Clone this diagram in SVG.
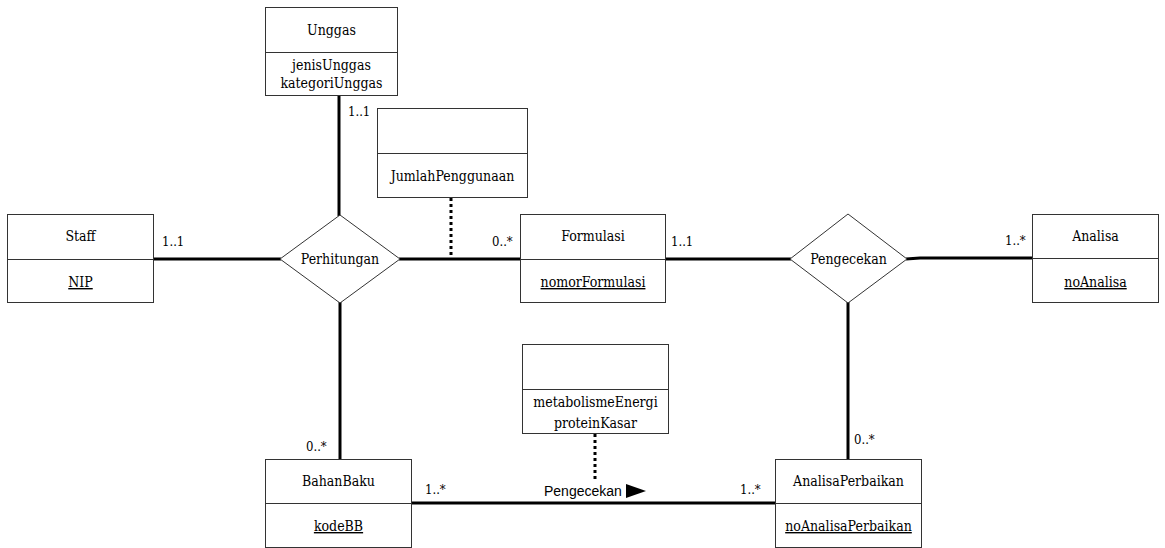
<svg xmlns="http://www.w3.org/2000/svg" width="1165" height="548" viewBox="0 0 1165 548">
<style>
.box{fill:#fff;stroke:#333;stroke-width:1}
.div{stroke:#333;stroke-width:1}
.t{font-family:"DejaVu Serif","Liberation Serif",serif;font-stretch:condensed;font-size:14px;fill:#000;text-anchor:middle}
.m{font-family:"DejaVu Serif","Liberation Serif",serif;font-stretch:condensed;font-size:13px;fill:#000}
.s{font-family:"Liberation Sans",Arial,sans-serif;font-size:14px;fill:#000}
.u{text-decoration:underline}
.c{stroke:#000;stroke-width:3;fill:none}
.d{stroke:#000;stroke-width:3;stroke-dasharray:3,3;fill:none}
.dm{fill:#fff;stroke:#333;stroke-width:1}
</style>
<rect width="1165" height="548" fill="#fff"/>
<g id="connectors">
<line class="c" x1="339" y1="95" x2="339" y2="216"/>
<line class="c" x1="154" y1="259" x2="281" y2="259"/>
<line class="c" x1="399" y1="259" x2="520" y2="259"/>
<line class="c" x1="665" y1="259" x2="791" y2="259"/>
<polyline class="c" points="906,259 920,258 1032,258"/>
<line class="c" x1="340" y1="302" x2="340" y2="459"/>
<line class="c" x1="848" y1="302" x2="848" y2="459"/>
<line class="c" x1="412" y1="503" x2="775" y2="503"/>
<line class="d" x1="451" y1="198" x2="451" y2="259"/>
<line class="d" x1="595" y1="434" x2="595" y2="480"/>
<polygon points="626,484 646,491 626,498" fill="#000"/>
<text class="s" x="544" y="496">Pengecekan</text>
<text class="m" x="348" y="116">1..1</text>
<text class="m" x="162" y="246">1..1</text>
<text class="m" x="492" y="246">0..*</text>
<text class="m" x="671" y="246">1..1</text>
<text class="m" x="1005" y="245">1..*</text>
<text class="m" x="306" y="451">0..*</text>
<text class="m" x="854" y="444">0..*</text>
<text class="m" x="425" y="494">1..*</text>
<text class="m" x="740" y="494">1..*</text>
</g>
<g id="Unggas">
<rect class="box" x="265.5" y="7.5" width="132" height="88"/>
<line class="div" x1="265.5" y1="52.5" x2="397.5" y2="52.5"/>
<text class="t" x="331.5" y="35">Unggas</text>
<text class="t" x="331.5" y="70">jenisUnggas</text>
<text class="t" x="331.5" y="88">kategoriUnggas</text>
</g>
<g id="assoc1">
<rect class="box" x="377.5" y="108.5" width="150" height="89"/>
<line class="div" x1="377.5" y1="153.5" x2="527.5" y2="153.5"/>
<text class="t" x="452.5" y="181">JumlahPenggunaan</text>
</g>
<g id="Staff">
<rect class="box" x="7.5" y="214.5" width="146" height="88"/>
<line class="div" x1="7.5" y1="259.5" x2="153.5" y2="259.5"/>
<text class="t" x="80.5" y="241">Staff</text>
<text class="t u" x="80.5" y="287">NIP</text>
</g>
<g id="Perhitungan">
<polygon class="dm" points="340,215 400,259 340,303 280,259"/>
<text class="t" x="340" y="264">Perhitungan</text>
</g>
<g id="Formulasi">
<rect class="box" x="520.5" y="214.5" width="145" height="88"/>
<line class="div" x1="520.5" y1="259.5" x2="665.5" y2="259.5"/>
<text class="t" x="593" y="241">Formulasi</text>
<text class="t u" x="593" y="287">nomorFormulasi</text>
</g>
<g id="Pengecekan">
<polygon class="dm" points="848,214 907,259 848,303 790,259"/>
<text class="t" x="848.5" y="264">Pengecekan</text>
</g>
<g id="Analisa">
<rect class="box" x="1032.5" y="214.5" width="126" height="88"/>
<line class="div" x1="1032.5" y1="258.5" x2="1158.5" y2="258.5"/>
<text class="t" x="1095.5" y="241">Analisa</text>
<text class="t u" x="1095.5" y="287">noAnalisa</text>
</g>
<g id="assoc2">
<rect class="box" x="522.5" y="344.5" width="146" height="89"/>
<line class="div" x1="522.5" y1="389.5" x2="668.5" y2="389.5"/>
<text class="t" x="595.5" y="407">metabolismeEnergi</text>
<text class="t" x="595.5" y="428">proteinKasar</text>
</g>
<g id="BahanBaku">
<rect class="box" x="265.5" y="459.5" width="146" height="88"/>
<line class="div" x1="265.5" y1="503.5" x2="411.5" y2="503.5"/>
<text class="t" x="338.5" y="486">BahanBaku</text>
<text class="t u" x="338.5" y="531">kodeBB</text>
</g>
<g id="AnalisaPerbaikan">
<rect class="box" x="775.5" y="459.5" width="146" height="88"/>
<line class="div" x1="775.5" y1="503.5" x2="921.5" y2="503.5"/>
<text class="t" x="848.5" y="486">AnalisaPerbaikan</text>
<text class="t u" x="848.5" y="531">noAnalisaPerbaikan</text>
</g>
</svg>
